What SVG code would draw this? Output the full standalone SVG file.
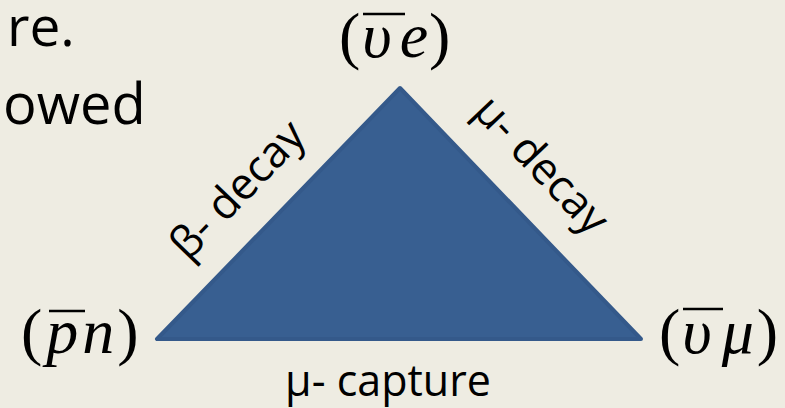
<svg xmlns="http://www.w3.org/2000/svg" width="785" height="408" viewBox="0 0 785 408">
<style>
.sans{font-family:"Open Sans","Liberation Sans",sans-serif;fill:#000}
.math{font-family:"Liberation Serif","DejaVu Serif",serif;font-style:italic;fill:#000}
.up{font-style:normal}
.bar{stroke:#000;stroke-width:2.5}
</style>
<rect width="785" height="408" fill="#EEECE2"/>
<g id="bodytext">
<text class="sans" x="7" y="46" font-size="55">re.</text>
<text class="sans" x="3" y="124" font-size="56">owed</text>
</g>
<g id="triangle">
<polygon points="400,88 157,339 641,339" fill="#385F91" stroke="#34598A" stroke-width="4" stroke-linejoin="round"/>
</g>
<g id="node-ve">
<text class="math" x="339" y="57" font-size="64"><tspan class="up">(</tspan><tspan dx="2">υ</tspan><tspan dx="8">e</tspan><tspan class="up" dx="1">)</tspan></text>
<line class="bar" x1="363" y1="14" x2="405" y2="14"/>
</g>
<g id="node-pn">
<text class="math" x="21" y="353" font-size="64"><tspan class="up">(</tspan><tspan dx="4">p</tspan><tspan dx="4">n</tspan><tspan class="up" dx="3">)</tspan></text>
<line class="bar" x1="49" y1="311" x2="85" y2="311"/>
</g>
<g id="node-vmu">
<text class="math" x="659" y="353" font-size="64"><tspan class="up">(</tspan><tspan dx="2">υ</tspan><tspan dx="10">μ</tspan><tspan class="up" dx="3">)</tspan></text>
<line class="bar" x1="683" y1="309" x2="723" y2="309"/>
</g>
<g id="connectors">
<text class="sans" font-size="44" text-anchor="middle" transform="translate(248,200) rotate(-46)">β- decay</text>
<text class="sans" font-size="44" text-anchor="middle" transform="translate(531,175) rotate(46.5)">μ- decay</text>
<text class="sans" font-size="43" text-anchor="middle" x="388" y="396">μ- capture</text>
</g>
</svg>
